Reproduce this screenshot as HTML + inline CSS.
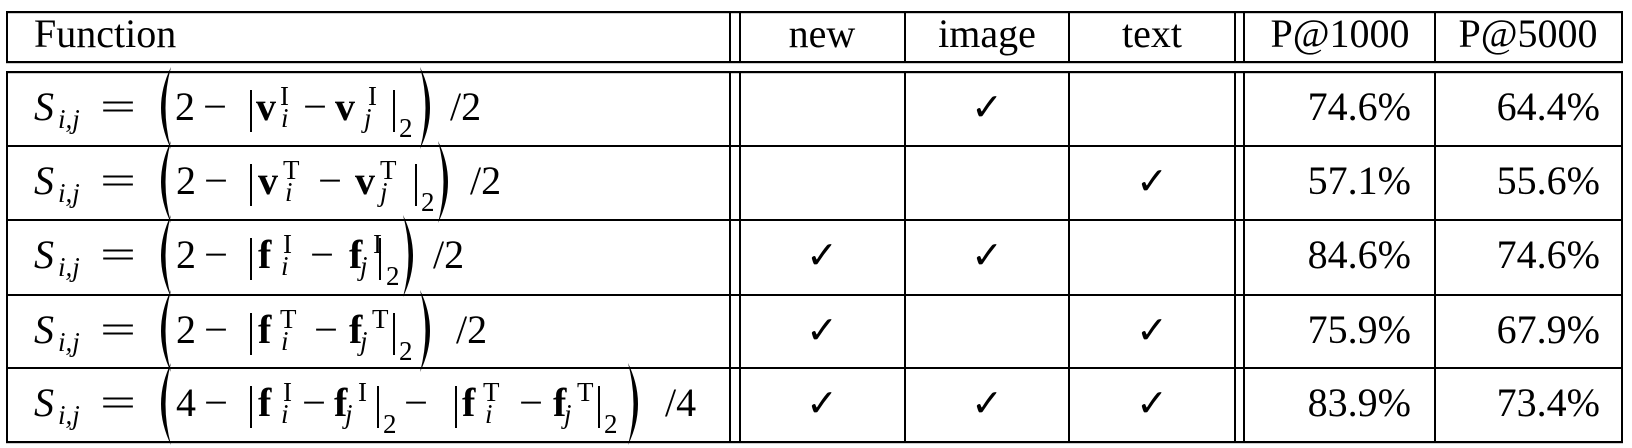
<!DOCTYPE html>
<html><head><meta charset="utf-8"><style>
html,body{margin:0;padding:0;background:#fff;}
svg{display:block;font-family:"Liberation Serif","DejaVu Serif",serif;}
svg text{font-family:"Liberation Serif","DejaVu Serif",serif;fill:#000;}
svg .m{font-size:40px;}
svg .s{font-size:27px;}
svg .i{font-style:italic;}
svg .b{font-weight:bold;}
svg text.ck{font-family:"DejaVu Sans",sans-serif;font-size:38px;}
</style></head><body>
<svg width="1632" height="448" viewBox="0 0 1632 448" xmlns="http://www.w3.org/2000/svg" font-family="Liberation Serif, serif">
<g fill="#000">
<rect x="6" y="11" width="1617" height="2.2"/>
<rect x="6" y="61" width="1617" height="2.2"/>
<rect x="6" y="71" width="1617" height="2.2"/>
<rect x="6" y="145" width="1617" height="2"/>
<rect x="6" y="219" width="1617" height="2"/>
<rect x="6" y="294" width="1617" height="2"/>
<rect x="6" y="367" width="1617" height="2"/>
<rect x="6" y="441" width="1617" height="2.2"/>
<g>
<rect x="6" y="11" width="2" height="52"/>
<rect x="729" y="11" width="2" height="52"/>
<rect x="739" y="11" width="2" height="52"/>
<rect x="904" y="11" width="2" height="52"/>
<rect x="1068" y="11" width="2" height="52"/>
<rect x="1234" y="11" width="2" height="52"/>
<rect x="1243" y="11" width="2" height="52"/>
<rect x="1434" y="11" width="2" height="52"/>
<rect x="1621" y="11" width="2" height="52"/>
</g>
<g>
<rect x="6" y="71" width="2" height="372"/>
<rect x="729" y="71" width="2" height="372"/>
<rect x="739" y="71" width="2" height="372"/>
<rect x="904" y="71" width="2" height="372"/>
<rect x="1068" y="71" width="2" height="372"/>
<rect x="1234" y="71" width="2" height="372"/>
<rect x="1243" y="71" width="2" height="372"/>
<rect x="1434" y="71" width="2" height="372"/>
<rect x="1621" y="71" width="2" height="372"/>
</g>
</g>

<text class="m" x="34" y="47">Function</text>
<text class="m" x="822" y="47" text-anchor="middle">new</text>
<text class="m" x="987" y="47" text-anchor="middle">image</text>
<text class="m" x="1152" y="47" text-anchor="middle">text</text>
<text class="m" x="1340" y="47" text-anchor="middle">P@1000</text>
<text class="m" x="1528" y="47" text-anchor="middle">P@5000</text>

<!-- Row 1 -->
<g>
<text class="m i" x="34" y="120">S</text><text class="s i" x="58" y="128">i,j</text>
<text class="m" x="100" y="120" textLength="36" lengthAdjust="spacingAndGlyphs">=</text>
<path d="M171,67 Q151,108 171,149 Q160,108 171,67 Z"/>
<text class="m" x="175" y="120">2</text>
<text class="m" x="203" y="120" textLength="24" lengthAdjust="spacingAndGlyphs">−</text>
<rect x="250" y="90" width="2" height="42"/>
<text class="m b" x="256" y="120">v</text><text class="s" x="280" y="105">I</text><text class="s i" x="281" y="127">i</text>
<text class="m" x="303" y="120" textLength="24" lengthAdjust="spacingAndGlyphs">−</text>
<text class="m b" x="335" y="120">v</text><text class="s" x="368" y="105">I</text><text class="s i" x="364" y="127">j</text>
<rect x="393" y="90" width="2" height="42"/>
<text class="s" x="399" y="137">2</text>
<path d="M420,67 Q440,108 420,149 Q431,108 420,67 Z"/>
<text class="m" x="450" y="120">/2</text>
</g>

<!-- Row 2 -->
<g>
<text class="m i" x="34" y="194">S</text><text class="s i" x="58" y="202">i,j</text>
<text class="m" x="100" y="194" textLength="36" lengthAdjust="spacingAndGlyphs">=</text>
<path d="M171,141 Q151,182 171,223 Q160,182 171,141 Z"/>
<text class="m" x="176" y="194">2</text>
<text class="m" x="204" y="194" textLength="24" lengthAdjust="spacingAndGlyphs">−</text>
<rect x="250" y="164" width="2" height="42"/>
<text class="m b" x="258" y="194">v</text><text class="s" x="283" y="179">T</text><text class="s i" x="285" y="201">i</text>
<text class="m" x="318" y="194" textLength="24" lengthAdjust="spacingAndGlyphs">−</text>
<text class="m b" x="355" y="194">v</text><text class="s" x="380" y="179">T</text><text class="s i" x="380" y="201">j</text>
<rect x="415" y="164" width="2" height="42"/>
<text class="s" x="421" y="211">2</text>
<path d="M438,141 Q458,182 438,223 Q449,182 438,141 Z"/>
<text class="m" x="470" y="194">/2</text>
</g>

<!-- Row 3 -->
<g>
<text class="m i" x="34" y="268">S</text><text class="s i" x="58" y="276">i,j</text>
<text class="m" x="100" y="268" textLength="36" lengthAdjust="spacingAndGlyphs">=</text>
<path d="M171,215 Q151,256 171,297 Q160,256 171,215 Z"/>
<text class="m" x="176" y="268">2</text>
<text class="m" x="204" y="268" textLength="24" lengthAdjust="spacingAndGlyphs">−</text>
<rect x="250" y="238" width="2" height="42"/>
<text class="m b" x="258" y="268">f</text><text class="s" x="283" y="253">I</text><text class="s i" x="281" y="275">i</text>
<text class="m" x="310" y="268" textLength="24" lengthAdjust="spacingAndGlyphs">−</text>
<text class="m b" x="349" y="268">f</text><text class="s" x="373" y="253">I</text><text class="s i" x="360" y="275">j</text>
<rect x="379" y="238" width="2" height="42"/>
<text class="s" x="386" y="285">2</text>
<path d="M403,215 Q423,256 403,297 Q414,256 403,215 Z"/>
<text class="m" x="433" y="268">/2</text>
</g>

<!-- Row 4 -->
<g>
<text class="m i" x="34" y="343">S</text><text class="s i" x="58" y="351">i,j</text>
<text class="m" x="100" y="343" textLength="36" lengthAdjust="spacingAndGlyphs">=</text>
<path d="M171,290 Q151,331 171,372 Q160,331 171,290 Z"/>
<text class="m" x="176" y="343">2</text>
<text class="m" x="204" y="343" textLength="24" lengthAdjust="spacingAndGlyphs">−</text>
<rect x="250" y="313" width="2" height="42"/>
<text class="m b" x="258" y="343">f</text><text class="s" x="280" y="328">T</text><text class="s i" x="281" y="350">i</text>
<text class="m" x="314" y="343" textLength="24" lengthAdjust="spacingAndGlyphs">−</text>
<text class="m b" x="349" y="343">f</text><text class="s" x="372" y="328">T</text><text class="s i" x="360" y="350">j</text>
<rect x="393" y="313" width="2" height="42"/>
<text class="s" x="399" y="360">2</text>
<path d="M420,290 Q440,331 420,372 Q431,331 420,290 Z"/>
<text class="m" x="456" y="343">/2</text>
</g>

<!-- Row 5 -->
<g>
<text class="m i" x="34" y="416">S</text><text class="s i" x="58" y="424">i,j</text>
<text class="m" x="100" y="416" textLength="36" lengthAdjust="spacingAndGlyphs">=</text>
<path d="M171,363 Q151,404 171,445 Q160,404 171,363 Z"/>
<text class="m" x="176" y="416">4</text>
<text class="m" x="204" y="416" textLength="24" lengthAdjust="spacingAndGlyphs">−</text>
<rect x="250" y="386" width="2" height="42"/>
<text class="m b" x="258" y="416">f</text><text class="s" x="283" y="401">I</text><text class="s i" x="281" y="423">i</text>
<text class="m" x="302" y="416" textLength="24" lengthAdjust="spacingAndGlyphs">−</text>
<text class="m b" x="334" y="416">f</text><text class="s" x="358" y="401">I</text><text class="s i" x="345" y="423">j</text>
<rect x="377" y="386" width="2" height="42"/>
<text class="s" x="383" y="433">2</text>
<text class="m" x="404" y="416" textLength="24" lengthAdjust="spacingAndGlyphs">−</text>
<rect x="455" y="386" width="2" height="42"/>
<text class="m b" x="462" y="416">f</text><text class="s" x="483" y="401">T</text><text class="s i" x="485" y="423">i</text>
<text class="m" x="519" y="416" textLength="24" lengthAdjust="spacingAndGlyphs">−</text>
<text class="m b" x="553" y="416">f</text><text class="s" x="577" y="401">T</text><text class="s i" x="564" y="423">j</text>
<rect x="598" y="386" width="2" height="42"/>
<text class="s" x="604" y="433">2</text>
<path d="M628,363 Q648,404 628,445 Q639,404 628,363 Z"/>
<text class="m" x="665" y="416">/4</text>
</g>

<g>
<text class="ck" x="987" y="120" text-anchor="middle">✓</text>
<text class="ck" x="1152" y="194" text-anchor="middle">✓</text>
<text class="ck" x="822" y="268" text-anchor="middle">✓</text>
<text class="ck" x="987" y="268" text-anchor="middle">✓</text>
<text class="ck" x="822" y="343" text-anchor="middle">✓</text>
<text class="ck" x="1152" y="343" text-anchor="middle">✓</text>
<text class="ck" x="822" y="416" text-anchor="middle">✓</text>
<text class="ck" x="987" y="416" text-anchor="middle">✓</text>
<text class="ck" x="1152" y="416" text-anchor="middle">✓</text>
</g>

<g text-anchor="end">
<text class="m" x="1411" y="120">74.6%</text><text class="m" x="1600" y="120">64.4%</text>
<text class="m" x="1411" y="194">57.1%</text><text class="m" x="1600" y="194">55.6%</text>
<text class="m" x="1411" y="268">84.6%</text><text class="m" x="1600" y="268">74.6%</text>
<text class="m" x="1411" y="343">75.9%</text><text class="m" x="1600" y="343">67.9%</text>
<text class="m" x="1411" y="416">83.9%</text><text class="m" x="1600" y="416">73.4%</text>
</g>
</svg>
</body></html>
